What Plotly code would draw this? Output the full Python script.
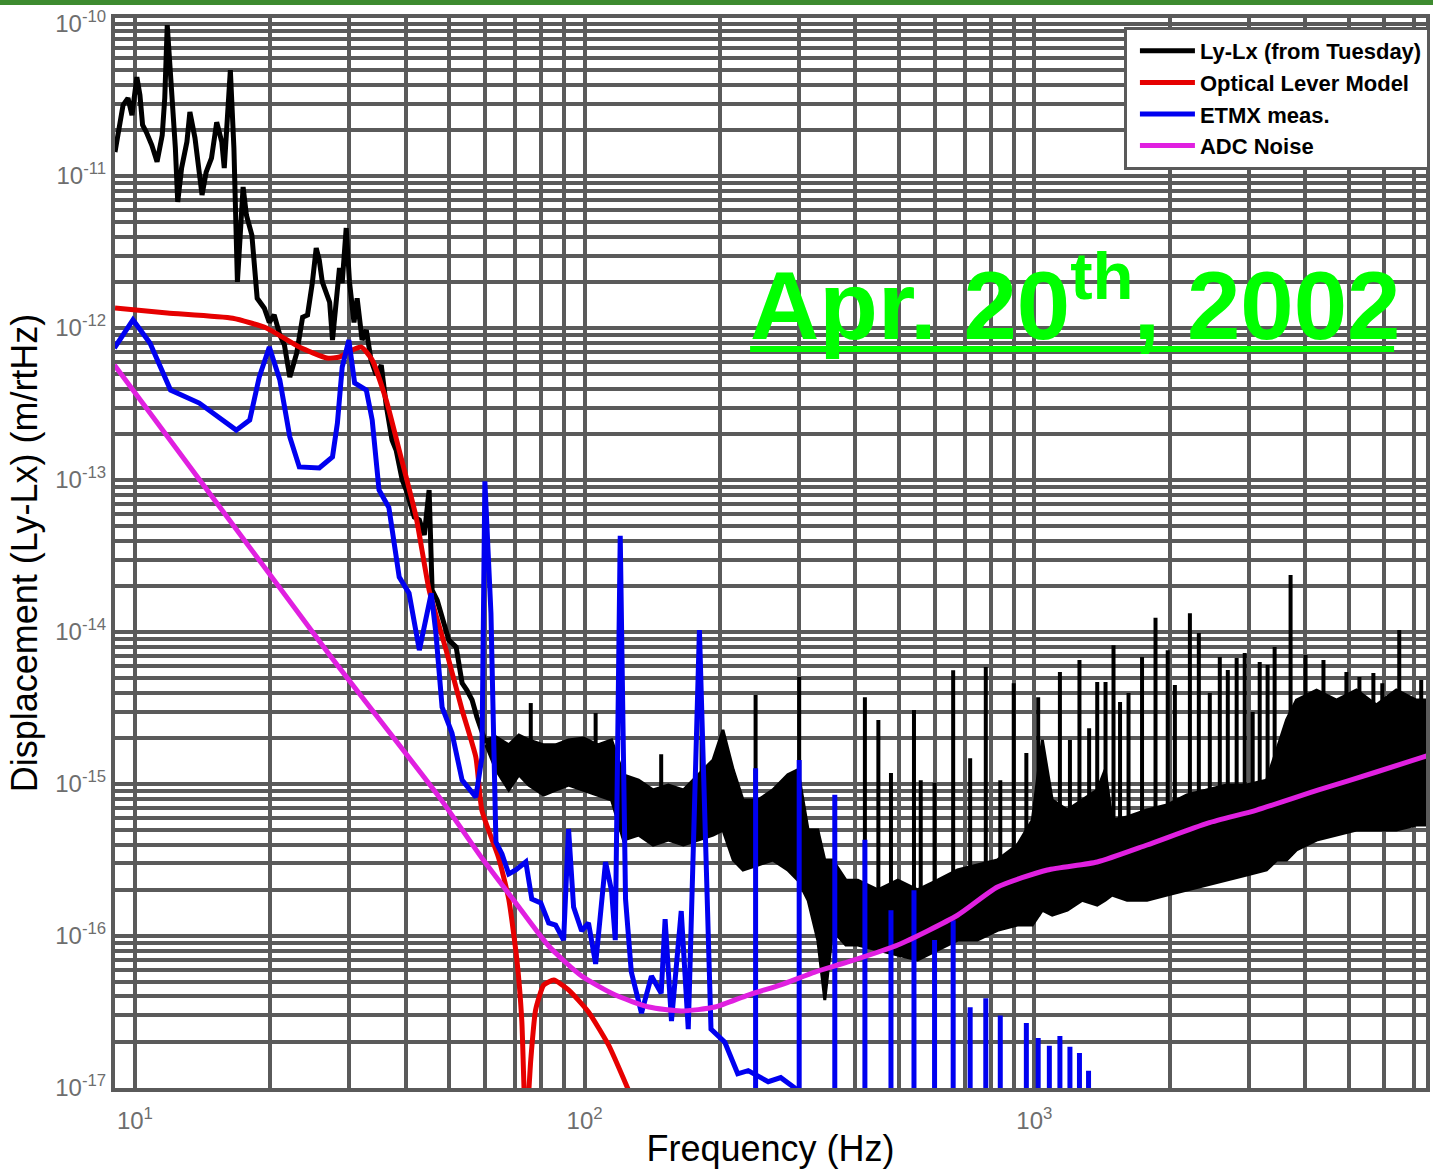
import numpy as np
import plotly.graph_objects as go

# ---------------- data ----------------
# Ly-Lx (from Tuesday): low-frequency trace
lylx_f = [9.03, 9.12, 9.41, 9.65, 9.85, 10.1, 10.26, 10.4, 10.6, 10.9,
          11.2, 11.5, 11.65, 11.8, 12.1, 12.3, 12.45, 12.7, 13.05, 13.25,
          13.6, 13.8, 14.1, 14.4, 14.8, 15.2, 15.6, 15.8, 16.1, 16.3,
          16.6, 16.7, 16.9, 17.4, 17.7, 18.2, 18.5, 18.7, 19.4, 19.9,
          20.4, 21.0, 21.5, 22.1, 22.9, 23.6, 24.2, 24.8, 25.3, 25.7,
          26.1, 27.1, 27.5, 28.5, 28.9, 29.5, 30.0, 30.7, 31.2, 32.0,
          32.7, 33.5, 34.4, 35.3, 36.2, 37.3, 38.1, 39.3, 40.1, 40.9,
          41.8, 42.9, 44.0, 45.1, 45.8, 47.0, 48.2, 49.9, 51.8, 53.4,
          54.7, 56.2, 57.6, 59.1, 60.3]
lylx_v = [1.44e-11, 1.68e-11, 2.93e-11, 3.26e-11, 2.52e-11, 4.48e-11, 3.41e-11, 2.17e-11, 1.95e-11, 1.6e-11,
          1.24e-11, 1.86e-11, 3.26e-11, 9.85e-11, 3.26e-11, 1.53e-11, 6.75e-12, 1.13e-11, 1.68e-11, 2.64e-11,
          1.78e-11, 1.24e-11, 7.5e-12, 1.06e-11, 1.31e-11, 2.26e-11, 1.68e-11, 1.13e-11, 3.26e-11, 4.98e-11,
          1.53e-11, 5.53e-12, 2.01e-12, 8.48e-12, 5.53e-12, 4.09e-12, 2.33e-12, 1.57e-12, 1.35e-12, 1.09e-12,
          1.22e-12, 9.0e-13, 7.73e-13, 4.76e-13, 6.86e-13, 1.18e-12, 1.22e-12, 1.98e-12, 3.36e-12, 2.8e-12,
          2.01e-12, 1.48e-12, 8.34e-13, 2.48e-12, 1.98e-12, 4.55e-12, 2.01e-12, 1.09e-12, 1.57e-12, 8.34e-13,
          9.7e-13, 6.16e-13, 4.91e-13, 5.71e-13, 3.11e-13, 1.83e-13, 1.57e-13, 1.0e-13, 8.6e-14, 6.85e-14,
          5.71e-14, 5.46e-14, 4.35e-14, 8.6e-14, 1.89e-14, 1.62e-14, 1.26e-14, 8.85e-15, 7.96e-15, 4.61e-15,
          4.15e-15, 3.57e-15, 2.76e-15, 2.27e-15, 1.86e-15]

# Ly-Lx noise band above 60 Hz: frequency, upper and lower envelope
band_f = [60.3, 63.5, 67.8, 71.4, 75.1, 81.1, 86.2, 92.1, 99.5, 107,
          114.8, 122, 131.8, 142, 153.5, 165.8, 179, 193, 203, 214,
          225, 243, 262, 283, 298, 314, 330, 342, 356, 381,
          405, 449, 497, 550, 610, 675, 747, 828, 917, 990,
          1042, 1096, 1184, 1278, 1380, 1437, 1489, 1608, 1781, 1972,
          2184, 2419, 2679, 2965, 3284, 3458, 3639, 3827, 4242, 4698,
          5203, 5762, 6381, 7067, 7551]
band_hi = [1.95e-15, 2.04e-15, 1.81e-15, 2.1e-15, 1.95e-15, 1.81e-15, 1.81e-15, 1.95e-15, 2.01e-15, 1.81e-15,
           1.95e-15, 1.15e-15, 1.06e-15, 9.13e-16, 9.85e-16, 9.13e-16, 1.15e-15, 1.44e-15, 2.27e-15, 1.24e-15,
           7.85e-16, 7.85e-16, 9.13e-16, 1.15e-15, 1.24e-15, 4.98e-16, 4.98e-16, 3.16e-16, 3.16e-16, 2.33e-16,
           2.33e-16, 2.01e-16, 2.33e-16, 2.01e-16, 2.33e-16, 2.72e-16, 2.93e-16, 3.16e-16, 3.97e-16, 5.8e-16,
           1.95e-15, 7.85e-16, 6.75e-16, 7.85e-16, 9.13e-16, 1.24e-15, 5.8e-16, 6.07e-16, 6.75e-16, 7.28e-16,
           8.47e-16, 9.13e-16, 9.85e-16, 9.85e-16, 1.06e-15, 1.67e-15, 2.64e-15, 3.57e-15, 4.15e-15, 3.57e-15,
           4.15e-15, 3.31e-15, 4.15e-15, 3.57e-15, 3.57e-15]
band_lo = [1.81e-15, 1.24e-15, 9.13e-16, 1.15e-15, 9.85e-16, 8.47e-16, 9.13e-16, 9.85e-16, 9.13e-16, 8.47e-16,
           7.85e-16, 4.28e-16, 4.62e-16, 3.97e-16, 4.28e-16, 3.97e-16, 4.28e-16, 4.62e-16, 4.98e-16, 3.16e-16,
           2.72e-16, 2.93e-16, 3.16e-16, 2.72e-16, 2.33e-16, 1.72e-16, 9.4e-17, 3.79e-17, 1.09e-16, 8.73e-17,
           8.73e-17, 8.1e-17, 7.5e-17, 6.95e-17, 8.1e-17, 9.4e-17, 9.4e-17, 1.09e-16, 1.18e-16, 1.18e-16,
           1.48e-16, 1.37e-16, 1.48e-16, 1.72e-16, 1.6e-16, 1.72e-16, 1.86e-16, 1.72e-16, 1.72e-16, 1.86e-16,
           2.01e-16, 2.17e-16, 2.33e-16, 2.52e-16, 2.72e-16, 3.16e-16, 3.16e-16, 3.68e-16, 4.28e-16, 4.62e-16,
           4.98e-16, 4.98e-16, 4.98e-16, 5.37e-16, 5.37e-16]

# Ly-Lx narrow lines: frequency and peak value
lylx_line_f = [75.9, 105.8, 148, 182, 240, 300, 420, 450, 480, 540,
               559, 600, 660, 720, 780, 840, 900, 960, 1020, 1140,
               1200, 1260, 1324, 1380, 1440, 1500, 1551, 1620, 1736, 1860,
               1980, 2054, 2218, 2322, 2456, 2585, 2693, 2818, 2937, 3059,
               3171, 3302, 3423, 3714, 4010, 4395, 4943, 5283, 5675, 5940,
               6479, 7250]
lylx_line_v = [3.41e-15, 2.93e-15, 1.57e-15, 3.41e-15, 3.85e-15, 5.06e-15, 3.73e-15, 2.64e-15, 1.18e-15, 3.07e-15,
               1.06e-15, 1.02e-15, 5.6e-15, 1.48e-15, 5.88e-15, 1.06e-15, 4.61e-15, 1.6e-15, 3.73e-15, 5.46e-15,
               1.95e-15, 6.55e-15, 2.33e-15, 4.69e-15, 4.69e-15, 8.2e-15, 3.46e-15, 3.97e-15, 6.85e-15, 1.24e-14,
               7.6e-15, 4.48e-15, 1.33e-14, 9.85e-15, 3.97e-15, 6.85e-15, 5.62e-15, 6.75e-15, 7.28e-15, 2.98e-15,
               6.35e-15, 6.07e-15, 7.96e-15, 2.37e-14, 7.06e-15, 6.55e-15, 5.46e-15, 5.06e-15, 5.37e-15, 4.61e-15,
               1.03e-14, 4.83e-15]

# Optical Lever Model
olm_f = [9.03, 11.8, 16.5, 19.6, 23.2, 26.7, 28.5, 30.4, 31.9, 33.7,
         36.2, 38.7, 42.2, 45.1, 49.2, 53.4, 57.3, 59.1, 64.4, 67.8,
         70.7, 72.5, 74.0, 75.9, 77.8, 81.1, 85.4, 92.1, 102, 113, 126.5]
olm_v = [1.355e-12, 1.256e-12, 1.16e-12, 1.0e-12, 7.5e-13, 6.35e-13, 6.45e-13, 7.16e-13, 7.5e-13, 6.16e-13,
         3.36e-13, 1.57e-13, 5.7e-14, 1.89e-14, 7.6e-15, 3.07e-15, 1.5e-15, 6.7e-16, 3.26e-16, 1.75e-16,
         6.95e-17, 2.76e-17, 5e-18, 1.53e-17, 3.26e-17, 4.76e-17, 5.13e-17, 4.42e-17, 3.16e-17, 1.92e-17, 9e-18]

# ETMX meas.
etmx_f = [9.0, 9.9, 10.8, 12.0, 13.9, 16.8, 18.0, 18.9, 19.9, 21.0,
          22.1, 23.2, 25.7, 27.5, 28.2, 28.9, 29.9, 30.8, 32.7, 33.7,
          34.9, 36.7, 38.7, 40.7, 42.9, 44.4, 45.6, 46.7, 48.2, 50.7,
          53.4, 57.3, 59.1, 60.0, 61.9, 63.5, 65.5, 67.8, 70.3, 74.0,
          76.3, 79.9, 83.2, 86.2, 89.8, 92.1, 94.5, 98.5, 102, 105.8,
          111.3, 114.8, 117, 120, 123.3, 127, 133.8, 140.8, 148, 151,
          156, 164, 170, 180, 191, 205, 219, 231, 256, 273, 325]
etmx_v = [7.38e-13, 1.13e-12, 7.96e-13, 3.91e-13, 3.21e-13, 2.13e-13, 2.48e-13, 4.76e-13, 7.5e-13, 4.55e-13,
          1.92e-13, 1.22e-13, 1.2e-13, 1.42e-13, 2.37e-13, 5.53e-13, 8.34e-13, 4.35e-13, 3.91e-13, 2.48e-13,
          8.6e-14, 6.6e-14, 2.3e-14, 1.8e-14, 7.6e-15, 1.2e-14, 1.8e-14, 9.8e-15, 3.2e-15, 2.17e-15,
          1.06e-15, 8.2e-16, 1.5e-15, 9.8e-14, 1.33e-14, 4.15e-16, 3.46e-16, 2.56e-16, 2.72e-16, 3.07e-16,
          1.75e-16, 1.65e-16, 1.22e-16, 1.18e-16, 9.4e-17, 5.06e-16, 1.55e-16, 1.08e-16, 1.22e-16, 6.55e-17,
          3.07e-16, 1.98e-16, 9.4e-17, 4.3e-14, 1.75e-16, 5.8e-17, 3.11e-17, 5.45e-17, 4.2e-17, 1.29e-16,
          2.76e-17, 1.46e-16, 2.44e-17, 1.03e-14, 2.44e-17, 2.0e-17, 1.24e-17, 1.3e-17, 1.1e-17, 1.17e-17, 8e-18]
# ETMX narrow lines (60 Hz harmonics): frequency and peak value
etmx_line_f = [240, 300, 360, 420, 480, 540, 600, 660, 720, 780,
               840, 960, 1020, 1080, 1140, 1200, 1260, 1320]
etmx_line_v = [1.27e-15, 1.44e-15, 8.5e-16, 4.3e-16, 1.48e-16, 2.0e-16, 9.4e-17, 1.27e-16, 3.4e-17, 3.9e-17,
               3.0e-17, 2.68e-17, 2.13e-17, 1.9e-17, 2.2e-17, 1.87e-17, 1.7e-17, 1.3e-17]

# ADC Noise
adc_f = [9.0, 27.1, 47.5, 59.1, 70.3, 83.2, 98.5, 117, 139, 164,
         195, 231, 273, 325, 385, 497, 675, 828, 1069, 1380,
         1781, 2431, 3122, 4286, 5762, 7550]
adc_v = [5.71e-13, 7.06e-15, 8.2e-16, 3.26e-16, 1.65e-16, 8.6e-17, 5.45e-17, 4.09e-17, 3.41e-17, 3.21e-17,
         3.41e-17, 4.09e-17, 4.77e-17, 5.79e-17, 6.75e-17, 8.73e-17, 1.37e-16, 2.1e-16, 2.72e-16, 3.07e-16,
         3.97e-16, 5.53e-16, 6.74e-16, 9.14e-16, 1.2e-15, 1.55e-15]

# tick labels
x_decades = [10, 100, 1000]
x_decade_text = ["10<sup>1</sup>", "10<sup>2</sup>", "10<sup>3</sup>"]
y_decades = [1e-17, 1e-16, 1e-15, 1e-14, 1e-13, 1e-12, 1e-11, 1e-10]
y_decade_text = ["10<sup>-17</sup>", "10<sup>-16</sup>", "10<sup>-15</sup>", "10<sup>-14</sup>",
                 "10<sup>-13</sup>", "10<sup>-12</sup>", "10<sup>-11</sup>", "10<sup>-10</sup>"]

# ---------------- styling ----------------
FONT = "Liberation Sans, Arial, Helvetica, sans-serif"
GRID = "#5a5a5a"
TICK = "#6e6e6e"
W, H = 1433, 1175
ML, MR, MT, MB = 115, 3, 18, 87
PW, PH = W - ML - MR, H - MT - MB


def px_x(p):
    return (p - ML) / PW


def px_y(p):
    return (H - MB - p) / PH


def log_grid(decade_starts, labels):
    vals, text = [], []
    lab = dict(zip(decade_starts, labels))
    for d in [10.0 ** e for e in range(-18, 5)]:
        for m in range(1, 10):
            v = m * d
            vals.append(v)
            key = next((k for k in decade_starts if abs(k - v) / k < 1e-6), None)
            text.append(lab[key] if (m == 1 and key is not None) else "")
    return vals, text


xgv, xgt = log_grid(x_decades, x_decade_text)
ygv, ygt = log_grid(y_decades, y_decade_text)

fig = go.Figure()

fig.add_trace(go.Scatter(x=lylx_f, y=lylx_v, mode="lines", name="Ly-Lx (from Tuesday)",
                         line=dict(color="black", width=5)))
fig.add_trace(go.Scatter(x=band_f + band_f[::-1], y=band_hi + band_lo[::-1], mode="lines",
                         fill="toself", fillcolor="black", line=dict(color="black", width=3),
                         showlegend=False, hoverinfo="skip"))
base = 10 ** np.interp(np.log10(lylx_line_f), np.log10(band_f), np.log10(band_lo))
sx, sy = [], []
for f, v, b in zip(lylx_line_f, lylx_line_v, base):
    sx += [f, f, None]
    sy += [v, b, None]
fig.add_trace(go.Scatter(x=sx, y=sy, mode="lines", line=dict(color="black", width=4),
                         showlegend=False, hoverinfo="skip"))

fig.add_trace(go.Scatter(x=olm_f, y=olm_v, mode="lines", name="Optical Lever Model",
                         line=dict(color="#e60000", width=5, shape="spline", smoothing=0.5)))

fig.add_trace(go.Scatter(x=etmx_f, y=etmx_v, mode="lines", name="ETMX meas.",
                         line=dict(color="#0000f0", width=5)))
bx, by = [], []
for f, v in zip(etmx_line_f, etmx_line_v):
    bx += [f, f, None]
    by += [v, 1e-18, None]
fig.add_trace(go.Scatter(x=bx, y=by, mode="lines", line=dict(color="#0000f0", width=5),
                         showlegend=False, hoverinfo="skip"))

fig.add_trace(go.Scatter(x=adc_f, y=adc_v, mode="lines", name="ADC Noise",
                         line=dict(color="#e020e0", width=5, shape="spline", smoothing=0.6)))

axis_common = dict(
    type="log", tickmode="array", showgrid=True, gridcolor=GRID, gridwidth=4,
    showline=True, linecolor=GRID, linewidth=4, mirror=True, ticks="", zeroline=False,
    tickfont=dict(size=24, color=TICK, family=FONT),
)

fig.update_layout(
    width=W, height=H,
    margin=dict(l=ML, r=MR, t=MT, b=MB),
    paper_bgcolor="white", plot_bgcolor="white",
    font=dict(family=FONT),
    xaxis=dict(axis_common, range=[np.log10(9.03), np.log10(7430)], tickvals=xgv, ticktext=xgt,
               ticklabelstandoff=8,
               title=dict(text="Frequency (Hz)", font=dict(size=36, color="black", family=FONT), standoff=4)),
    yaxis=dict(axis_common, range=[-17.0, -9.96], tickvals=ygv, ticktext=ygt,
               title=dict(text="Displacement (Ly-Lx) (m/rtHz)", font=dict(size=36, color="black", family=FONT),
                          standoff=8)),
    legend=dict(x=1.003, xanchor="right", y=px_y(27), yanchor="top", bgcolor="white",
                bordercolor=GRID, borderwidth=3, tracegroupgap=0, itemwidth=55, indentation=8,
                font=dict(size=22, color="black", family=FONT, weight="bold")),
    showlegend=True,
)

fig.add_annotation(xref="paper", yref="paper", x=px_x(750), y=px_y(298), xanchor="left", yanchor="middle",
                   text="<b>Apr. 20<sup>th</sup>, 2002</b>", showarrow=False,
                   font=dict(size=96, color="#00ff00", family=FONT))
fig.add_shape(type="line", xref="paper", yref="paper", x0=px_x(752), x1=px_x(1398), y0=px_y(349), y1=px_y(349),
              line=dict(color="#00ff00", width=6))
fig.add_shape(type="rect", xref="paper", yref="paper", x0=-0.1, x1=1.01, y0=px_y(5), y1=px_y(-3),
              fillcolor="#3d8b2f", line=dict(width=0))

fig.write_html("out.html")
